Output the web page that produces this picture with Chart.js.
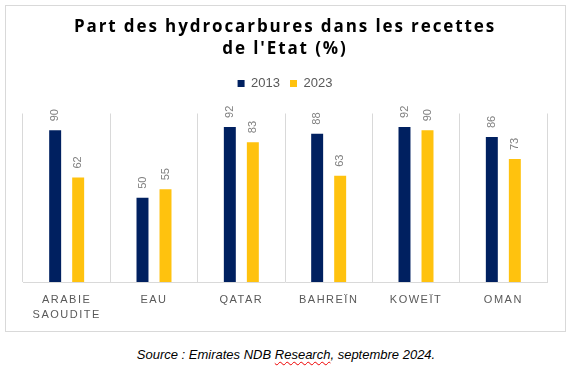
<!DOCTYPE html>
<html><head><meta charset="utf-8">
<script src="https://cdn.jsdelivr.net/npm/chart.js@4.4.0/dist/chart.umd.min.js"></script>
<style>
html,body{margin:0;padding:0;background:#fff;width:572px;height:371px;overflow:hidden}
#frame{position:absolute;left:5px;top:5px;width:559px;height:325px;border:1px solid #d9d9d9}
#c{position:absolute;left:0;top:0}
#src{position:absolute;left:0;width:572px;top:347px;text-align:center;font:italic 13px 'Liberation Sans';color:#000}
#src span{text-decoration:underline wavy #e00;text-decoration-thickness:1px;text-underline-offset:2px}
</style></head>
<body>
<div id="frame"></div>
<canvas id="c" width="572" height="342"></canvas>
<div id="src">Source : Emirates NDB <span>Research</span>, septembre 2024.</div>
<script>
const categories = [['ARABIE','SAOUDITE'],'EAU','QATAR','BAHREÏN','KOWEÏT','OMAN'];
const values2013 = [90,50,92,88,92,86];
const values2023 = [62,55,83,63,90,73];
const seriesNames = ['2013','2023'];
const titleLines = ['Part des hydrocarbures dans les recettes', "de l'Etat (%)"];

const helper = {
  id:'helper',
  afterInit(chart){
    const lg = chart.legend;
    const f = lg.fit;
    lg.fit = function(){ f.call(this); this.height += 13.5; };
  },
  beforeDraw(chart){
    const s = chart.scales.x;
    if (!s._ls) {
      const o = s.drawLabels;
      s.drawLabels = function(a){ const c=this.ctx; c.save(); c.letterSpacing='1.5px'; o.call(this,a); c.restore(); };
      s._ls = true;
    }
    const t = chart.titleBlock;
    if (t && !t._ls) {
      const o = t.draw;
      t.draw = function(){ const c=this.ctx; c.save(); c.letterSpacing='1.9px'; o.apply(this,arguments); c.restore(); };
      t._ls = true;
    }
  },
  afterDatasetsDraw(chart){
    const ctx = chart.ctx;
    ctx.save();
    ctx.font = "11px 'Liberation Sans'";
    ctx.fillStyle = '#7f7f7f';
    ctx.textAlign = 'left';
    ctx.textBaseline = 'middle';
    chart.data.datasets.forEach((ds,i)=>{
      chart.getDatasetMeta(i).data.forEach((el,j)=>{
        ctx.save();
        ctx.translate(el.x, el.y - 9);
        ctx.rotate(-Math.PI/2);
        ctx.fillText(String(ds.data[j]), 0, 0);
        ctx.restore();
      });
    });
    ctx.restore();
  }
};

new Chart(document.getElementById('c'), {
  type:'bar',
  data:{
    labels: categories,
    datasets:[
      {label: seriesNames[0], data: values2013, backgroundColor:'#002060', categoryPercentage:0.527, barPercentage:0.52},
      {label: seriesNames[1], data: values2023, backgroundColor:'#FFC20E', categoryPercentage:0.527, barPercentage:0.52}
    ]
  },
  options:{
    responsive:false,
    animation:false,
    layout:{padding:{top:4,left:23,right:25,bottom:10}},
    plugins:{
      title:{display:true,text:titleLines,color:'#000',
        font:{family:"'Open Sans'",size:17,weight:'bold',lineHeight:'22px'},
        padding:{top:12,bottom:7}},
      legend:{display:true,position:'top',
        labels:{boxWidth:7,boxHeight:7,padding:10,color:'#595959',
          font:{family:"'Liberation Sans'",size:13}}},
      tooltip:{enabled:false}
    },
    scales:{
      x:{
        grid:{offset:true,color:'#d9d9d9',drawTicks:false},
        border:{color:'#d9d9d9'},
        ticks:{color:'#595959',padding:10,maxRotation:0,autoSkip:false,
          font:{family:"'Liberation Sans'",size:11,lineHeight:'15px'}}
      },
      y:{display:false,min:0,max:100}
    }
  },
  plugins:[helper]
});
</script>
</body></html>
